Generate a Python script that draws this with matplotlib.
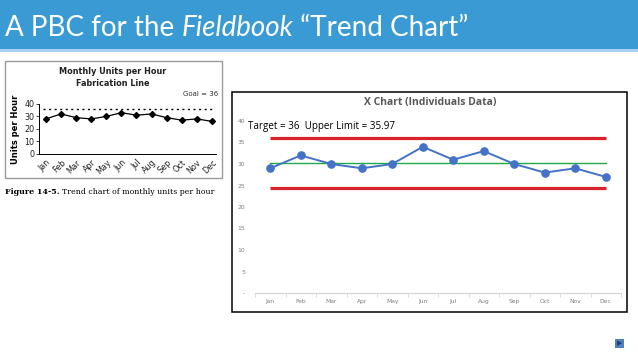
import matplotlib.pyplot as plt
from matplotlib.patches import Rectangle
from matplotlib.ticker import FixedLocator

# data
months = ["Jan", "Feb", "Mar", "Apr", "May", "Jun",
          "Jul", "Aug", "Sep", "Oct", "Nov", "Dec"]
book_units = [28, 32, 29, 28, 30, 33, 31, 32, 29, 27, 28, 26]   # fieldbook trend chart
goal = 36
x_units = [29, 32, 30, 29, 30, 34, 31, 33, 30, 28, 29, 27]      # X chart (individuals)
upper_limit = 35.97
lower_limit = 24.37

W, H = 638, 359


def px(l, t, r, b):
    # pixel box -> figure fraction
    return [l / W, 1 - b / H, (r - l) / W, (b - t) / H]


fig = plt.figure(figsize=(W / 100, H / 100), dpi=100)
fig.patch.set_facecolor("white")

# title bar
fig.add_artist(Rectangle((0, 1 - 49 / H), 1, 49 / H, transform=fig.transFigure,
                         facecolor="#3A9BD4", edgecolor="none", zorder=-5))
fig.add_artist(Rectangle((0, 1 - 52 / H), 1, 3 / H, transform=fig.transFigure,
                         facecolor="#A9D2EE", edgecolor="none", zorder=-5))

# title text in pieces (italic word in the middle)
renderer = fig.canvas.get_renderer()
pieces = [("A PBC for the ", "normal"), ("Fieldbook", "italic"), (" \u201cTrend Chart\u201d", "normal")]
xpos = 5 / W
for txt, style in pieces:
    t = fig.text(xpos, 1 - 28 / H, txt, color="white", fontsize=20, family="Lato",
                 style=style, va="center", ha="left")
    bb = t.get_window_extent(renderer=renderer)
    xpos += bb.width / W

# ---- left: small fieldbook chart ----
fig.add_artist(Rectangle((5 / W, 1 - 178 / H), 217 / W, 117 / H, transform=fig.transFigure,
                         facecolor="white", edgecolor="#9a9a9a", linewidth=1.0, zorder=-5))
fig.text(113 / W, 1 - 71 / H, "Monthly Units per Hour", ha="center", va="center",
         fontsize=5.9, fontweight="bold", family="DejaVu Sans", color="#222222")
fig.text(113 / W, 1 - 84 / H, "Fabrication Line", ha="center", va="center",
         fontsize=5.9, fontweight="bold", family="DejaVu Sans", color="#222222")
fig.text(218 / W, 1 - 94 / H, "Goal = 36", ha="right", va="center",
         fontsize=5, family="DejaVu Sans", color="#333333")

ax1 = fig.add_axes(px(39, 104, 216, 153.7))
ax1.plot(range(12), book_units, color="black", marker="D", markersize=3, linewidth=0.9)
ax1.axhline(goal, xmin=0.02, xmax=0.98, color="black", linestyle=(0, (1.5, 2.5)), linewidth=1)
ax1.set_xlim(-0.46, 11.27)
ax1.set_ylim(0, 40)
ax1.set_yticks([0, 10, 20, 30, 40])
ax1.set_xticks(range(12))
ax1.set_xticklabels(months, rotation=45, ha="right", rotation_mode="anchor")
ax1.tick_params(axis="both", labelsize=5.8, length=2, width=0.6, pad=1.5, colors="#222222")
ax1.tick_params(axis="x", length=0, pad=3)
for s in ["top", "right"]:
    ax1.spines[s].set_visible(False)
for s in ["left", "bottom"]:
    ax1.spines[s].set_linewidth(0.7)
ax1.set_ylabel("Units per Hour", fontsize=6, fontweight="bold", labelpad=3)
ax1.patch.set_alpha(0)

# caption
cap = fig.text(5 / W, 1 - 192 / H, "Figure 14-5.", fontsize=5.7, fontweight="bold",
               family="DejaVu Serif", va="center", ha="left")
bb = cap.get_window_extent(renderer=renderer)
fig.text(5 / W + bb.width / W + 3 / W, 1 - 192 / H, "Trend chart of monthly units per hour",
         fontsize=5.6, family="DejaVu Serif", va="center", ha="left")

# ---- right: X chart ----
fig.add_artist(Rectangle((232 / W, 1 - 312 / H), 395 / W, 220 / H, transform=fig.transFigure,
                         facecolor="white", edgecolor="black", linewidth=1.1, zorder=-5))
fig.text(430 / W, 1 - 103 / H, "X Chart (Individuals Data)", ha="center", va="center",
         fontsize=7.5, fontweight="bold", family="Open Sans", color="#595959")

ax2 = fig.add_axes(px(255, 121, 621, 293))
x = list(range(12))
ax2.plot([0, 11], [upper_limit, upper_limit], color="#D9232B", linewidth=2.3, solid_capstyle="butt")
ax2.plot([0, 11], [lower_limit, lower_limit], color="#D9232B", linewidth=2.3, solid_capstyle="butt")
mean = sum(x_units) / len(x_units)
ax2.plot([0, 11], [mean, mean], color="#1EAA4A", linewidth=1.0)
ax2.plot(x, x_units, color="#4472C4", linewidth=1.4, marker="o", markersize=5.2)
ax2.set_xlim(-0.5, 11.5)
ax2.set_ylim(0, 40)
ax2.set_yticks(range(0, 41, 5))
ax2.set_yticklabels(["-"] + [str(v) for v in range(5, 41, 5)])
ax2.set_xticks(x)
ax2.set_xticklabels(months)
ax2.xaxis.set_minor_locator(FixedLocator([i - 0.5 for i in range(13)]))
ax2.tick_params(axis="both", which="major", length=0, labelsize=4.3, labelcolor="#7f7f7f")
ax2.tick_params(axis="x", which="major", pad=4)
ax2.tick_params(axis="x", which="minor", length=3, width=0.5, color="#d0d0d0")
ax2.tick_params(axis="y", pad=7)
for s in ["top", "right", "left"]:
    ax2.spines[s].set_visible(False)
ax2.spines["bottom"].set_color("#d0d0d0")
ax2.spines["bottom"].set_linewidth(0.7)
ax2.patch.set_alpha(0)

fig.text(248 / W, 1 - 127 / H, "Target = 36  Upper Limit = 35.97", ha="left", va="center",
         fontsize=7.1, family="Open Sans", color="black")

# small nav arrow in the corner
fig.add_artist(Rectangle((615 / W, 1 - 348 / H), 9 / W, 9 / H, transform=fig.transFigure,
                         facecolor="#4F81BD", edgecolor="none"))
fig.text(619.5 / W, 1 - 343.5 / H, "\u25B6", color="#1F3D7A", fontsize=5,
         ha="center", va="center")

fig.savefig("out.png", dpi=100)
